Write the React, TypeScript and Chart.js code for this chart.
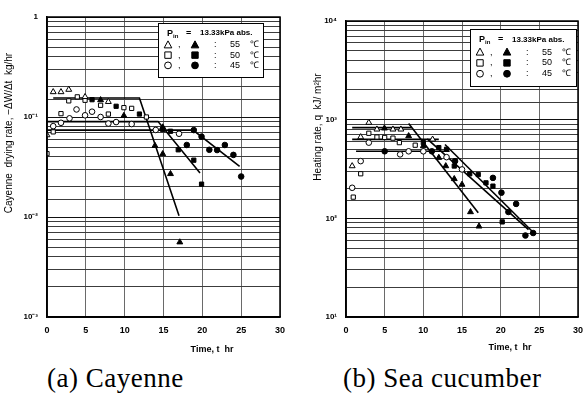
import { useEffect, useRef } from 'react';
import { Chart, registerables } from 'chart.js';
Chart.register(...registerables);

type P = [number, number];

// ---------- (a) Cayenne : drying rate -dW/dt, kg/hr ----------
const cayOpen55: P[] = [[0, 0.066], [0.8, 0.178], [1.8, 0.178], [2.8, 0.188], [4.9, 0.159], [7.9, 0.142]];
const cayFilled55: P[] = [[6.9, 0.148], [9.9, 0.103], [13.9, 0.0516], [14.9, 0.079], [14.9, 0.0427], [15.9, 0.027], [17.1, 0.0056]];
const cayOpen50: P[] = [[0, 0.043], [0.8, 0.071], [1.8, 0.108], [2.8, 0.145], [3.9, 0.159], [4.9, 0.147], [6.9, 0.131], [7.9, 0.107], [9.9, 0.124], [10.9, 0.122], [12.8, 0.1]];
const cayFilled50: P[] = [[5.8, 0.149], [8.9, 0.128], [11.9, 0.107], [14.9, 0.075], [15.9, 0.072], [16.9, 0.047], [18.9, 0.037], [19.9, 0.0213]];
const cayOpen45: P[] = [[0.8, 0.081], [1.8, 0.0875], [2.9, 0.097], [3.8, 0.119], [4.9, 0.104], [5.8, 0.113], [6.9, 0.1], [7.9, 0.086], [8.9, 0.089], [10.9, 0.085], [14, 0.0742], [17, 0.068]];
const cayFilled45: P[] = [[18, 0.0525], [18.9, 0.074], [19.9, 0.0636], [20.9, 0.047], [21.9, 0.0467], [22.9, 0.0525], [24, 0.0418], [25, 0.0254]];
const cayLine55: P[] = [[0.8, 0.155], [11.9, 0.155], [17, 0.0103]];
const cayLine50: P[] = [[0, 0.09], [14.3, 0.09], [19.7, 0.0276]];
const cayLine45: P[] = [[0, 0.074], [18.8, 0.074], [24.8, 0.032]];
const cayDecades = [0.001, 0.01, 0.1, 1];
const cayDecadeLabels = ['10⁻³', '10⁻²', '10⁻¹', '1'];

// ---------- (b) Sea cucumber : heating rate q, kJ/m²hr ----------
const seaOpen55: P[] = [[0.8, 339], [1.9, 667], [2.95, 933], [4, 798], [6.07, 798], [7.1, 798], [11.2, 631]];
const seaFilled55: P[] = [[4.97, 818], [8.1, 683], [10, 541], [12, 412], [12.9, 339], [14, 251], [15, 220], [16.1, 116], [17.2, 83]];
const seaOpen50: P[] = [[0.94, 164], [1.9, 283], [2.95, 728], [4, 667], [5, 660], [6.07, 650], [6.9, 585], [8.95, 551]];
const seaFilled50: P[] = [[10, 585], [12, 521], [13, 501], [14, 339], [16, 283], [17.1, 278], [18.1, 229], [19, 212], [20.2, 92]];
const seaOpen45: P[] = [[0.8, 204], [1.9, 380], [2.95, 585], [7, 445], [8.1, 478], [10, 478], [13, 417], [15, 313]];
const seaFilled45: P[] = [[5, 478], [11.1, 478], [14.1, 380], [19, 257], [20.1, 182], [21, 116], [22, 140], [23.2, 67], [24.2, 71]];
const seaFlat55: P[] = [[0.8, 830], [8.5, 830]];
const seaFall55: P[] = [[8.1, 912], [17.1, 114]];
const seaFlat50: P[] = [[0.8, 631], [12, 631]];
const seaFall50: P[] = [[10.5, 640], [23.6, 77]];
const seaFlat45: P[] = [[1.3, 478], [13.4, 478]];
const seaFall45: P[] = [[12.8, 560], [24.3, 71]];
const seaDecades = [10, 100, 1000, 10000];
const seaDecadeLabels = ['10¹', '10²', '10³', '10⁴'];

const legendTemps = ['55', '50', '45'];
const legendPressure = '13.33kPa abs.';
const xTitle = 'Time, t  hr';
const cayYTitle = 'Cayenne  drying rate, −ΔW/Δt  kg/hr';
const seaYTitle = 'Heating rate, q  kJ/ m²hr';

const SANS = '"Liberation Sans", Arial, sans-serif';

interface Panel {
  series: { open55: P[]; filled55: P[]; open50: P[]; filled50: P[]; open45: P[]; filled45: P[]; lines: P[][] };
  yMin: number; yMax: number;
  decades: number[]; decadeLabels: string[];
  width: number; height: number;
  yAxisWidth: number; padTop: number; padRight: number;
  xTitleX: number; xTitleY: number;
  yTitle: string; yTitleX: number; yTitleY: number; yTitleSize: number;
  legend: { x: number; y: number; w: number; h: number };
}

const isDecade = (v: number, decades: number[]) => decades.some((d) => Math.abs(Math.log10(v) - Math.log10(d)) < 1e-6);

function drawSym(ctx: CanvasRenderingContext2D, kind: string, x: number, y: number, r: number, filled: boolean) {
  ctx.beginPath();
  if (kind === 'tri') {
    ctx.moveTo(x, y - r);
    ctx.lineTo(x + r * 0.95, y + r * 0.75);
    ctx.lineTo(x - r * 0.95, y + r * 0.75);
    ctx.closePath();
  } else if (kind === 'rect') {
    ctx.rect(x - r * 0.8, y - r * 0.8, r * 1.6, r * 1.6);
  } else {
    ctx.arc(x, y, r * 0.85, 0, Math.PI * 2);
  }
  ctx.fillStyle = filled ? '#000' : '#fff';
  ctx.fill();
  ctx.lineWidth = 1;
  ctx.strokeStyle = '#000';
  ctx.stroke();
}

function makeConfig(p: Panel): any {
  const toXY = (a: P[]) => a.map(([x, y]) => ({ x, y }));
  const pts = (data: P[], style: string, filled: boolean, r: number) => ({
    data: toXY(data), pointStyle: style, pointRadius: r, pointBackgroundColor: filled ? '#000' : '#fff',
    pointBorderColor: '#000', pointBorderWidth: 1, showLine: false,
  });
  const ln = (data: P[]) => ({
    data: toXY(data), borderColor: '#000', borderWidth: 1.6, pointRadius: 0, showLine: true, fill: false, tension: 0,
  });
  const s = p.series;
  const datasets = [
    pts(s.open55, 'triangle', false, 3.4), pts(s.filled55, 'triangle', true, 3.4),
    pts(s.open50, 'rect', false, 3), pts(s.filled50, 'rect', true, 3),
    pts(s.open45, 'circle', false, 2.8), pts(s.filled45, 'circle', true, 2.8),
    ...s.lines.map(ln),
  ];
  const decor = {
    id: 'decor',
    afterDraw(chart: any) {
      const { ctx, chartArea: a } = chart;
      ctx.save();
      ctx.strokeStyle = '#000';
      ctx.lineWidth = 1.5;
      ctx.strokeRect(a.left, a.top, a.right - a.left, a.bottom - a.top);
      ctx.fillStyle = '#000';
      ctx.font = `bold 9px ${SANS}`;
      ctx.textAlign = 'center';
      ctx.textBaseline = 'middle';
      ctx.fillText(xTitle, p.xTitleX, p.xTitleY);
      ctx.save();
      ctx.translate(p.yTitleX, p.yTitleY);
      ctx.rotate(-Math.PI / 2);
      ctx.font = `${p.yTitleSize}px ${SANS}`;
      ctx.fillText(p.yTitle, 0, 0);
      ctx.restore();
      // legend box
      const L = p.legend;
      ctx.fillStyle = '#fff';
      ctx.fillRect(L.x, L.y, L.w, L.h);
      ctx.lineWidth = 1;
      ctx.strokeStyle = '#000';
      ctx.strokeRect(L.x + 0.5, L.y + 0.5, L.w, L.h);
      const rows = [0.19, 0.405, 0.595, 0.785].map((f) => L.y + L.h * f);
      ctx.fillStyle = '#000';
      ctx.textAlign = 'left';
      ctx.font = `bold 9px ${SANS}`;
      ctx.fillText('P', L.x + 9, rows[0]);
      ctx.font = `bold 6px ${SANS}`;
      ctx.fillText('in', L.x + 15, rows[0] + 3);
      ctx.font = `bold 9px ${SANS}`;
      ctx.fillText('=', L.x + 28, rows[0]);
      ctx.font = `bold 8px ${SANS}`;
      ctx.fillText(legendPressure, L.x + 42, rows[0]);
      const kinds = ['tri', 'rect', 'circ'];
      kinds.forEach((k, i) => {
        const y = rows[i + 1];
        drawSym(ctx, k, L.x + 10, y, 4, false);
        drawSym(ctx, k, L.x + 37, y, 4, true);
        ctx.fillStyle = '#000';
        ctx.font = `9px ${SANS}`;
        ctx.fillText(',', L.x + 20, y);
        ctx.fillText(':', L.x + 56, y);
        ctx.fillText(legendTemps[i], L.x + 72, y);
        ctx.fillText('℃', L.x + 92, y);
      });
      ctx.restore();
    },
  };
  return {
    type: 'scatter',
    data: { datasets },
    plugins: [decor],
    options: {
      responsive: false,
      animation: false,
      events: [],
      layout: { padding: { left: 0, top: p.padTop, right: p.padRight, bottom: 0 } },
      plugins: { legend: { display: false }, tooltip: { enabled: false } },
      scales: {
        x: {
          type: 'linear', min: 0, max: 30,
          ticks: { stepSize: 5, autoSkip: false, maxRotation: 0, padding: 8, color: '#000', font: { family: SANS, size: 9, weight: 'bold' } },
          grid: { color: '#6a6a6a', lineWidth: 1, drawTicks: false },
          border: { display: true, color: '#000', width: 1.5 },
          afterFit: (sc: any) => { sc.height = p.height - 317; sc.paddingLeft = 0; sc.paddingRight = 0; },
        },
        y: {
          type: 'logarithmic', min: p.yMin, max: p.yMax,
          ticks: {
            autoSkip: false, padding: 9, color: '#000', font: { family: SANS, size: 8, weight: 'bold' },
            callback: (v: number) => {
              const i = p.decades.findIndex((d) => Math.abs(Math.log10(v) - Math.log10(d)) < 1e-6);
              return i >= 0 ? p.decadeLabels[i] : '';
            },
          },
          grid: {
            drawTicks: false,
            color: (c: any) => (c.tick && isDecade(c.tick.value, p.decades) ? '#111' : '#3c3c3c'),
            lineWidth: 1,
          },
          border: { display: true, color: '#000', width: 1.5 },
          afterFit: (sc: any) => { sc.width = p.yAxisWidth; sc.paddingTop = 0; sc.paddingBottom = 0; },
        },
      },
    },
  };
}

const cayPanel: Panel = {
  series: { open55: cayOpen55, filled55: cayFilled55, open50: cayOpen50, filled50: cayFilled50, open45: cayOpen45, filled45: cayFilled45, lines: [cayLine55, cayLine50, cayLine45] },
  yMin: 0.001, yMax: 1, decades: cayDecades, decadeLabels: cayDecadeLabels,
  width: 290, height: 360, yAxisWidth: 47, padTop: 17, padRight: 10,
  xTitleX: 212, xTitleY: 350,
  yTitle: cayYTitle, yTitleX: 9, yTitleY: 133, yTitleSize: 10,
  legend: { x: 158, y: 23, w: 105, h: 54 },
};

const seaPanel: Panel = {
  series: { open55: seaOpen55, filled55: seaFilled55, open50: seaOpen50, filled50: seaFilled50, open45: seaOpen45, filled45: seaFilled45, lines: [seaFlat55, seaFall55, seaFlat50, seaFall50, seaFlat45, seaFall45] },
  yMin: 10, yMax: 10000, decades: seaDecades, decadeLabels: seaDecadeLabels,
  width: 293, height: 360, yAxisWidth: 56, padTop: 21, padRight: 3,
  xTitleX: 220, xTitleY: 348,
  yTitle: seaYTitle, yTitleX: 28, yTitleY: 127, yTitleSize: 10,
  legend: { x: 180, y: 29, w: 106, h: 57 },
};

function PanelChart({ panel, left }: { panel: Panel; left: number }) {
  const ref = useRef<HTMLCanvasElement>(null);
  useEffect(() => {
    if (!ref.current) return;
    const chart = new Chart(ref.current, makeConfig(panel));
    return () => chart.destroy();
  }, [panel]);
  return (
    <canvas
      ref={ref}
      width={panel.width}
      height={panel.height}
      style={{ position: 'absolute', left, top: 0, width: panel.width, height: panel.height }}
    />
  );
}

export default function App() {
  const cap: any = { position: 'absolute', top: 362, fontFamily: '"Liberation Serif", "Times New Roman", serif', fontSize: 27, lineHeight: '32px', whiteSpace: 'nowrap', color: '#000' };
  return (
    <div style={{ position: 'absolute', left: 0, top: 0, width: 583, height: 400, overflow: 'hidden', background: '#fff' }}>
      <PanelChart panel={cayPanel} left={0} />
      <PanelChart panel={seaPanel} left={290} />
      <div style={{ ...cap, left: 47, letterSpacing: 0.5 }}>(a) Cayenne</div>
      <div style={{ ...cap, left: 343, letterSpacing: 0.5 }}>(b) Sea cucumber</div>
    </div>
  );
}
